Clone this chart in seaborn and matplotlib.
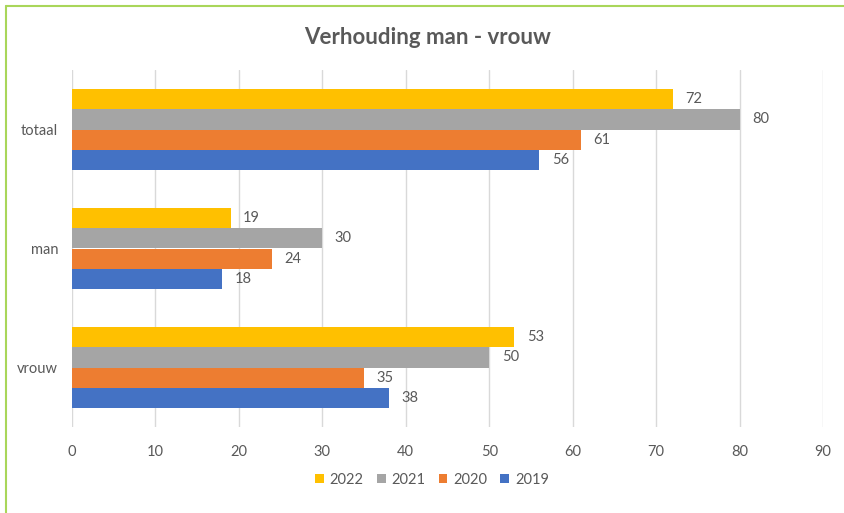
import matplotlib
matplotlib.use("Agg")
import matplotlib.pyplot as plt
import seaborn as sns
import pandas as pd
from matplotlib.lines import Line2D
from matplotlib.patches import Patch

categories = ["totaal", "man", "vrouw"]
years = ["2022", "2021", "2020", "2019"]
v2022 = [72, 19, 53]
v2021 = [80, 30, 50]
v2020 = [61, 24, 35]
v2019 = [56, 18, 38]
colors = ["#FFC000", "#A5A5A5", "#ED7D31", "#4472C4"]
xticks = [0, 10, 20, 30, 40, 50, 60, 70, 80, 90]

rows = []
for yr, vals in zip(years, [v2022, v2021, v2020, v2019]):
    for c, v in zip(categories, vals):
        rows.append({"cat": c, "year": yr, "value": v})
df = pd.DataFrame(rows)

sns.set_theme(style="white")
plt.rcParams["font.family"] = ["Lato", "DejaVu Sans"]
txt = "#595959"

fig = plt.figure(figsize=(8.44, 5.13), dpi=100)
ax = fig.add_axes([72/844, 1-427/513, (823-72)/844, (427-70)/513])
sns.barplot(data=df, y="cat", x="value", hue="year", order=categories,
            hue_order=years, palette=colors, orient="h", width=0.68,
            saturation=1, ax=ax, legend=False, linewidth=0, edgecolor="none")

for cont in ax.containers:
    ax.bar_label(cont, padding=9, fontsize=10.5, color=txt)

ax.set_xlim(0, 90)
ax.set_xticks(xticks)
ax.set_xticklabels([str(t) for t in xticks])
ax.xaxis.grid(True, color="#D9D9D9", linewidth=1)
ax.set_axisbelow(True)
for s in ax.spines.values():
    s.set_visible(False)
ax.set_xlabel("")
ax.set_ylabel("")
ax.tick_params(axis="x", length=0, pad=13, labelsize=10.5, labelcolor=txt)
ax.tick_params(axis="y", length=0, pad=10, labelsize=10.5, labelcolor=txt)

fig.text(428/844, 1-37/513, "Verhouding man - vrouw", ha="center", va="center",
         fontsize=16, fontweight="bold", color=txt)

handles = [Patch(facecolor=c, edgecolor="none") for c in colors]
fig.legend(handles, years, loc="center", bbox_to_anchor=(432/844, 1-480/513),
           ncol=4, frameon=False, fontsize=10.5, labelcolor=txt,
           handlelength=0.6, handleheight=0.6, handletextpad=0.4, columnspacing=0.9)

green = "#A9D65A"
fig.add_artist(Line2D([5.5/844, 5.5/844], [0, 1-6/513], color=green, linewidth=1.5,
                      transform=fig.transFigure))
fig.add_artist(Line2D([5.5/844, 1], [1-6/513, 1-6/513], color=green, linewidth=1.5,
                      transform=fig.transFigure))

fig.savefig("out.png", dpi=100, facecolor="white")
